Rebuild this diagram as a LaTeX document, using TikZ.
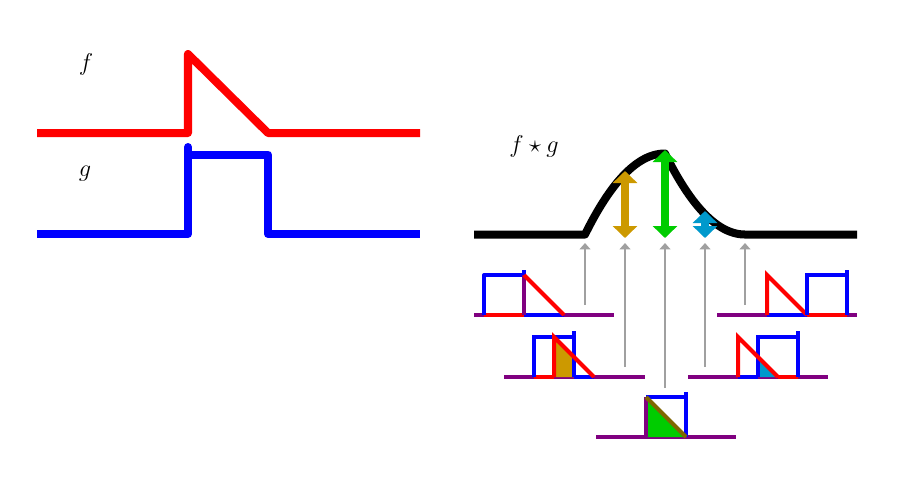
\documentclass[tikz,border=0pt]{standalone}
\usetikzlibrary{arrows.meta}
\definecolor{fred}{RGB}{255,0,0}
\definecolor{gblue}{RGB}{0,0,255}
\definecolor{mixp}{RGB}{128,0,128}
\definecolor{goldc}{RGB}{204,153,0}
\definecolor{greenc}{RGB}{0,204,0}
\definecolor{skyc}{RGB}{0,153,204}
\definecolor{brownmix}{RGB}{128,102,0}
\definecolor{grayc}{RGB}{160,160,160}
\tikzset{
  bigline/.style={line width=5.7pt},
  smallline/.style={line width=2.85pt},
  lbl/.style={font=\fontsize{17.28}{21}\selectfont, anchor=base, inner sep=0pt},
  dblarrow/.style={line width=5.7pt, {Triangle[width=0.6cm,length=0.3cm]}-{Triangle[width=0.6cm,length=0.3cm]}},
  grayarrow/.style={grayc, line width=1.4pt, -{Triangle[width=0.27cm,length=0.16cm]}},
}
\begin{document}
\begin{tikzpicture}[x=0.025cm,y=-0.025cm]
\useasboundingbox (0,0) rectangle (908,483);

% ---- f and g ----
\draw[fred,bigline,line join=round] (37,133)--(188,133)--(188,54)--(268,133)--(420,133);
\draw[gblue,bigline,line cap=round] (188,234)--(188,147);
\draw[gblue,bigline,line join=round] (37,234)--(188,234) (188,154.5)--(268,154.5)--(268,234)--(420,234);
\node[lbl] (lf) at (86,70) {$f$};
\node[lbl] (lg) at (85,176) {$g$};
\node[lbl] (lfg) at (534,152) {$f\star g$};

% ---- convolution curve ----
\draw[black,bigline,line join=round] (474,234.5)--(585,234.5)
  -- plot[domain=0:80,samples=41] ({585+\x},{234.5-81/40*(\x-\x*\x/160)})
  -- plot[domain=80:160,samples=41] ({585+\x},{234.5-81/40*((160-\x)*(160-\x)/160)})
  -- (857,234.5);

% ---- double arrows ----
\coordinate (ga) at (625,238); \coordinate (gb) at (625,171);
\coordinate (na) at (665,238); \coordinate (nb) at (665,150);
\coordinate (sa) at (705,238); \coordinate (sb) at (705,211);
\draw[dblarrow,goldc] (ga)--(gb);
\draw[dblarrow,greenc] (na)--(nb);
\draw[dblarrow,skyc] (sa)--(sb);

% ---- gray arrows ----
\coordinate (p1) at (585,305); \coordinate (q1) at (585,243);
\coordinate (p2) at (625,367); \coordinate (q2) at (625,243);
\coordinate (p3) at (665,388); \coordinate (q3) at (665,243);
\coordinate (p4) at (705,367); \coordinate (q4) at (705,243);
\coordinate (p5) at (745,305); \coordinate (q5) at (745,243);
\foreach \i in {1,...,5} \draw[grayarrow] (p\i)--(q\i);

% ---- mini diagram 1 ----
\draw[mixp,smallline] (474,315)--(614,315);
\draw[fred,smallline] (484,315)--(524,315);
\draw[gblue,smallline] (524,315)--(564,315);
\draw[gblue,smallline,line join=round] (484,315)--(484,275)--(524,275);
\draw[gblue,smallline] (524,270)--(524,276);
\draw[mixp,smallline] (524,315)--(524,275);
\draw[fred,smallline] (524,275)--(564,315);

% ---- mini diagram 2 ----
\draw[mixp,smallline] (504,377)--(645,377);
\fill[goldc] (554,377)--(554,337)--(574,357)--(574,377)--cycle;
\draw[fred,smallline] (534,377)--(554,377);
\draw[gblue,smallline] (574,377)--(594,377);
\draw[gblue,smallline] (534,377)--(534,337)--(574,337);
\draw[gblue,smallline] (574,331)--(574,377);
\draw[fred,smallline] (554,377)--(554,337)--(594,377);

% ---- mini diagram 3 ----
\draw[mixp,smallline] (596,437)--(736,437);
\fill[greenc] (646,437)--(646,397)--(686,437)--cycle;
\draw[gblue,smallline] (646,397)--(686,397);
\draw[gblue,smallline] (686,392)--(686,437);
\draw[mixp,smallline] (646,437)--(646,397);
\draw[brownmix,smallline] (646,397)--(686,437);

% ---- mini diagram 4 ----
\draw[mixp,smallline] (688,377)--(828,377);
\fill[skyc] (758,377)--(758,357)--(778,377)--cycle;
\draw[gblue,smallline] (738,377)--(758,377);
\draw[fred,smallline] (778,377)--(798,377);
\draw[gblue,smallline] (758,377)--(758,337)--(798,337);
\draw[gblue,smallline] (798,331)--(798,377);
\draw[fred,smallline] (738,377)--(738,337)--(778,377);

% ---- mini diagram 5 ----
\draw[mixp,smallline] (717,315)--(857,315);
\draw[gblue,smallline] (767,315)--(807,315);
\draw[fred,smallline] (807,315)--(847,315);
\draw[fred,smallline] (767,315)--(767,275)--(807,315);
\draw[gblue,smallline] (807,315)--(807,275)--(847,275);
\draw[gblue,smallline] (847,270)--(847,315);
\end{tikzpicture}
\end{document}
